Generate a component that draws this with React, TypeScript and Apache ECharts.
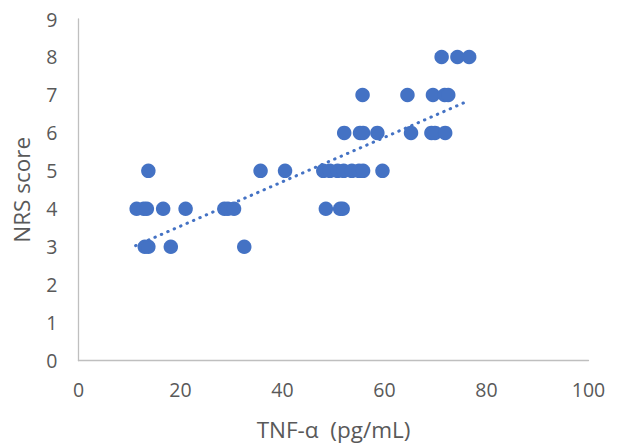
import React, { useEffect, useRef } from "react";
import * as echarts from "echarts";

const xValues = [
  13.0, 13.7, 18.1, 32.5,
  11.4, 12.8, 13.4, 16.6, 21.0, 28.6, 29.3, 30.5, 48.5, 51.3, 51.8,
  13.7, 35.7, 40.5, 48.0, 49.3, 50.8, 52.0, 53.6, 55.0, 55.8, 59.6,
  52.1, 55.2, 55.8, 58.6, 65.2, 69.2, 69.9, 71.9,
  55.7, 64.5, 69.5, 71.8, 72.5,
  71.2, 74.3, 76.6,
];
const yValues = [
  3, 3, 3, 3,
  4, 4, 4, 4, 4, 4, 4, 4, 4, 4, 4,
  5, 5, 5, 5, 5, 5, 5, 5, 5, 5, 5,
  6, 6, 6, 6, 6, 6, 6, 6,
  7, 7, 7, 7, 7,
  8, 8, 8,
];
const trendX = [11.2, 76.2];
const trendY = [3.03, 6.83];

const xTicks = { min: 0, max: 100, interval: 20 };
const yTicks = { min: 0, max: 9, interval: 1 };

const xTitle = "TNF-α  (pg/mL)";
const yTitle = "NRS score";

export default function App() {
  const ref = useRef<HTMLDivElement>(null);
  useEffect(() => {
    if (!ref.current) return;
    const chart = echarts.init(ref.current, null, { renderer: "svg" });
    const font = "'Open Sans', 'Liberation Sans', sans-serif";
    const axisCommon = {
      axisLine: { show: true, lineStyle: { color: "#BFBFBF", width: 1.3 } },
      axisTick: { show: false },
      splitLine: { show: false },
      nameLocation: "middle" as const,
      nameTextStyle: { color: "#595959", fontSize: 22.5, fontFamily: font },
      axisLabel: { color: "#595959", fontSize: 19.5, fontFamily: font, margin: 19 },
    };
    chart.setOption({
      animation: false,
      backgroundColor: "#ffffff",
      grid: { left: 78.5, right: 30.5, top: 19, bottom: 85.3, containLabel: false },
      xAxis: {
        type: "value",
        ...axisCommon,
        min: xTicks.min,
        max: xTicks.max,
        interval: xTicks.interval,
        name: xTitle,
        nameGap: 57,
      },
      yAxis: {
        type: "value",
        ...axisCommon,
        min: yTicks.min,
        max: yTicks.max,
        interval: yTicks.interval,
        name: yTitle,
        nameGap: 46,
        axisLabel: { ...axisCommon.axisLabel, margin: 21 },
      },
      series: [
        {
          type: "scatter",
          data: xValues.map((x, i) => [x, yValues[i]]),
          symbol: "circle",
          symbolSize: 14.5,
          itemStyle: { color: "#4472C4", opacity: 1 },
          z: 2,
        },
        {
          type: "line",
          data: trendX.map((x, i) => [x, trendY[i]]),
          symbol: "none",
          lineStyle: { color: "#4472C4", width: 3, type: [0.5, 6.5], cap: "round" },
          z: 3,
        },
      ],
    });
    return () => chart.dispose();
  }, []);
  return (
    <div
      ref={ref}
      style={{ position: "fixed", left: 0, top: 0, width: 619, height: 446 }}
    />
  );
}
